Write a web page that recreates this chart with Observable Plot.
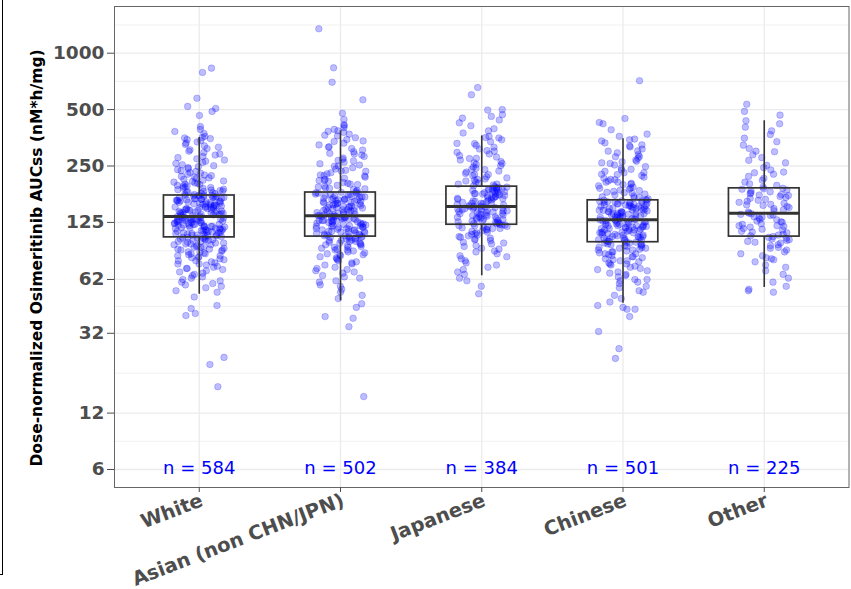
<!DOCTYPE html>
<html>
<head>
<meta charset="utf-8">
<script src="https://cdn.jsdelivr.net/npm/d3@7"></script>
<script src="https://cdn.jsdelivr.net/npm/@observablehq/plot@0.6"></script>
<style>
  body { margin: 0; background: #fff; }
  #chart { position: absolute; left: 0; top: 0; }
  #edge { position: absolute; left: -10px; top: -10px; width: 12px; height: 584px;
          border-right: 1.5px solid #000; border-bottom: 1.5px solid #000; }
</style>
</head>
<body>
<div id="chart"></div>
<div id="edge"></div>
<script>
const categories = ["White", "Asian (non CHN/JPN)", "Japanese", "Chinese", "Other"];
const counts = [584, 502, 384, 501, 225];

// box statistics
const q1 = [104, 105, 121.5, 98, 105];
const median = [134.5, 135.6, 152, 129, 140];
const q3 = [174, 180.5, 194, 164, 190];
const whiskerLow = [51.7, 47.7, 64.9, 46.3, 56.2];
const whiskerHigh = [355, 385, 362, 349, 436];

const yTicks = [6, 12, 32, 62, 125, 250, 500, 1000];
const yMinor = [8.49, 19.6, 44.5, 88.2, 176.8, 353.6, 707.1, 1414];
const nLabelAt = 6;
const yTitle = "Dose-normalized Osimeritinib AUCss (nM*h/mg)";

// individual AUCss values (estimated from the scatter)
const whiteValues = [
  832,789,575,520,507,489,465,406,392,382,373,360,50,45,43.4,40.8,39.8,23.8,21.8,16.6,
  53,54,56,57,58,59,60,61,62,63,64,65,66,67,68,69,70,71,71,72,73,74,75,75,76,77,78,78,79,80,
  81,81,82,83,83,84,85,85,86,87,87,88,89,89,90,90,91,92,92,93,93,94,95,95,96,96,97,97,98,99,
  99,100,100,101,101,102,102,103,103,104,
  104,105,105,106,106,107,107,107,108,108,109,109,110,110,110,111,111,112,112,113,
  113,113,114,114,115,115,116,116,116,117,117,118,118,119,119,119,120,120,121,121,
  122,122,122,123,123,124,124,125,125,125,126,126,127,127,128,128,128,129,129,130,
  130,131,131,131,132,132,133,133,134,135,
  136,136,137,137,138,138,139,139,140,140,141,141,142,142,143,143,144,145,145,146,
  146,147,147,148,148,149,150,150,151,151,152,152,153,154,154,155,155,156,157,157,
  158,158,159,160,160,161,161,162,163,163,164,164,165,166,166,167,167,168,169,169,
  170,170,171,172,172,173,173,174,174,174,
  175,176,177,178,179,180,181,182,183,184,185,186,187,188,190,191,192,193,195,196,
  197,199,200,202,203,205,207,208,210,212,214,216,218,220,222,224,226,229,231,234,
  236,239,242,245,248,251,254,258,261,265,269,273,277,281,286,290,295,300,305,310,
  315,320,326,331,336,341,346,350,353,355
];
const asianValues = [
  1350,836,700,564,478,443,415,411,400,392,46,44,39.3,38.5,34.7,14.7,
  49,51,53,55,57,58,60,61,63,64,65,67,68,69,70,71,72,74,75,76,77,78,79,80,81,82,83,84,84,85,
  86,87,88,89,89,90,91,92,92,93,94,95,95,96,97,97,98,99,99,100,100,101,102,102,103,103,104,104,105,105,
  106,106,107,107,108,108,109,110,110,111,111,112,112,113,114,114,115,115,116,116,
  117,118,118,119,119,120,120,121,122,122,123,123,124,124,125,126,126,127,127,128,
  128,129,130,130,131,131,132,132,133,133,134,134,135,135,136,136,112,120,128,133,
  137,137,138,139,139,140,141,141,142,143,144,144,145,146,146,147,148,149,149,150,
  151,152,152,153,154,155,155,156,157,158,158,159,160,161,162,162,163,164,165,166,
  166,167,168,169,170,171,171,172,173,174,175,176,176,177,178,179,180,180,150,165,
  181,183,185,187,189,191,193,195,197,199,202,204,207,209,212,215,218,221,224,227,
  230,234,237,241,245,249,253,257,262,266,271,276,281,286,292,298,304,310,317,324,
  331,338,346,354,362,370,378,385,190,200,210,222,235,250,268,290,315,340,365,383
];
const japaneseValues = [
  656,600,500,497,470,460,450,440,425,410,395,385,375,63,61,57,52,
  66,68,70,72,74,76,78,80,82,83,85,87,88,90,91,93,94,96,97,98,
  100,101,102,103,104,105,106,107,108,109,110,111,112,113,114,115,116,116,117,118,118,119,120,120,121,121,
  122,123,123,124,125,125,126,127,127,128,129,130,130,131,132,132,133,134,134,135,
  136,137,137,138,139,139,140,141,141,142,143,144,144,145,146,146,147,148,148,149,150,150,151,151,152,152,
  153,154,155,156,157,158,159,160,161,162,163,164,165,166,167,168,169,170,171,172,
  173,174,175,176,177,178,179,180,181,182,183,184,185,186,187,188,189,190,191,192,193,194,158,168,178,188,
  196,198,200,203,205,208,210,213,216,219,222,225,228,232,235,239,243,247,251,255,
  260,264,269,274,279,284,290,296,302,308,315,322,329,337,345,353,360,200,212,225,240,258,275,300,330,355
];
const chineseValues = [
  713,448,427,420,390,370,360,45,44,43,43,39.3,32.7,26.5,23.5,
  47,49,51,53,54,56,57,59,60,61,62,64,65,66,67,68,69,70,71,72,73,74,75,76,77,78,78,79,80,81,
  82,82,83,84,85,85,86,87,87,88,89,89,90,91,91,92,92,93,94,94,95,95,96,96,97,97,98,98,62,75,
  99,99,100,100,101,101,102,103,103,104,104,105,105,106,107,107,108,108,109,110,
  110,111,111,112,113,113,114,114,115,116,116,117,117,118,119,119,120,120,121,122,
  122,123,123,124,125,125,126,126,127,128,128,129,129,105,110,115,120,124,102,118,
  130,130,131,131,132,133,133,134,134,135,136,136,137,137,138,139,139,140,140,141,
  142,142,143,143,144,145,145,146,146,147,148,148,149,149,150,151,151,152,152,153,
  154,154,155,155,156,157,157,158,158,159,160,160,161,161,162,163,163,164,164,140,
  165,167,169,171,173,175,177,179,181,183,186,188,191,193,196,199,202,205,208,211,
  215,218,222,226,230,234,238,243,248,253,258,263,269,275,281,287,294,301,308,316,
  324,332,340,348,170,180,190,200,212,225,240,260,280,300,320,345,185,205,230,265
];
const otherValues = [
  534,489,467,55,54,53,
  57,60,63,66,69,72,74,77,79,81,83,85,87,89,91,92,94,95,97,98,99,100,101,102,103,104,105,80,
  106,107,108,110,111,112,114,115,116,118,119,120,122,123,125,126,127,129,130,132,133,134,136,137,138,139,140,120,
  142,144,146,148,150,152,154,156,158,160,162,164,166,168,170,172,174,176,178,180,182,184,186,188,189,190,155,175,
  193,197,201,205,210,215,220,226,232,238,245,252,260,268,277,287,298,310,323,337,352,368,385,403,420,436,230,300
];

const groups = [whiteValues, asianValues, japaneseValues, chineseValues, otherValues];
const points = groups.flatMap((vals, g) => vals.map((v, i) => ({g, v, i})));
// deterministic horizontal jitter (position only)
const jitter = (g, i) => {
  const s = Math.sin((i + 1) * 12.9898 + (g + 1) * 78.233) * 43758.5453;
  return (s - Math.floor(s)) - 0.5;
};
const idx = categories.map((c, i) => i);

const font = "DejaVu Sans";
const chart = Plot.plot({
  width: 851,
  height: 589,
  marginLeft: 114,
  marginRight: 2.5,
  marginTop: 6,
  marginBottom: 102,
  style: {fontFamily: font, background: "white", overflow: "visible"},
  x: {type: "linear", domain: [-0.6, 4.6], axis: null},
  y: {type: "log", domain: [4.81, 1775], axis: null},
  marks: [
    Plot.ruleY(yMinor, {stroke: "#ebebeb", strokeWidth: 0.7}),
    Plot.ruleY(yTicks, {stroke: "#ebebeb", strokeWidth: 1.3}),
    Plot.ruleX(idx, {x: d => d, stroke: "#ebebeb", strokeWidth: 1.3}),
    Plot.dot(points, {
      x: d => d.g + jitter(d.g, d.i) * 0.36,
      y: "v",
      r: 3.3,
      fill: "blue", fillOpacity: 0.26,
      stroke: "blue", strokeOpacity: 0.26, strokeWidth: 0.8
    }),
    Plot.ruleX(idx, {x: d => d, y1: d => q3[d], y2: d => whiskerHigh[d], stroke: "#333", strokeWidth: 1.6}),
    Plot.ruleX(idx, {x: d => d, y1: d => whiskerLow[d], y2: d => q1[d], stroke: "#333", strokeWidth: 1.6}),
    Plot.rect(idx, {x1: d => d - 0.25, x2: d => d + 0.25, y1: d => q1[d], y2: d => q3[d],
      fill: "none", stroke: "#333", strokeWidth: 1.7}),
    Plot.ruleY(idx, {y: d => median[d], x1: d => d - 0.25, x2: d => d + 0.25, stroke: "#333", strokeWidth: 3}),
    Plot.frame({stroke: "#666", strokeWidth: 1}),
    Plot.axisY(yTicks, {tickSize: 7, tickFormat: () => "", label: null, color: "#4d4d4d"}),
    Plot.text(yTicks, {y: d => d, frameAnchor: "left", text: d => String(d), dx: -10,
      textAnchor: "end", lineAnchor: "middle", fontSize: 18.5, fontWeight: "bold", fill: "#4d4d4d"}),
    Plot.axisX(idx, {tickSize: 5, tickFormat: () => "", label: null, color: "#4d4d4d"}),
    Plot.text(idx, {x: d => d, frameAnchor: "bottom", text: d => categories[d], rotate: -21,
      textAnchor: "end", lineAnchor: "top", dx: 0, dy: 5,
      fontSize: 19.5, fontWeight: "bold", fill: "#4d4d4d"}),
    Plot.text(idx, {x: d => d, y: () => nLabelAt, text: d => `n = ${counts[d]}`, dy: -1,
      fontSize: 18, fill: "blue", textAnchor: "middle", lineAnchor: "middle"}),
    Plot.text([yTitle], {frameAnchor: "left", text: d => d, rotate: -90, dx: -77, dy: 11,
      textAnchor: "middle", fontSize: 15.5, fontWeight: "bold", fill: "black"})
  ]
});
document.getElementById("chart").append(chart);
</script>
</body>
</html>
